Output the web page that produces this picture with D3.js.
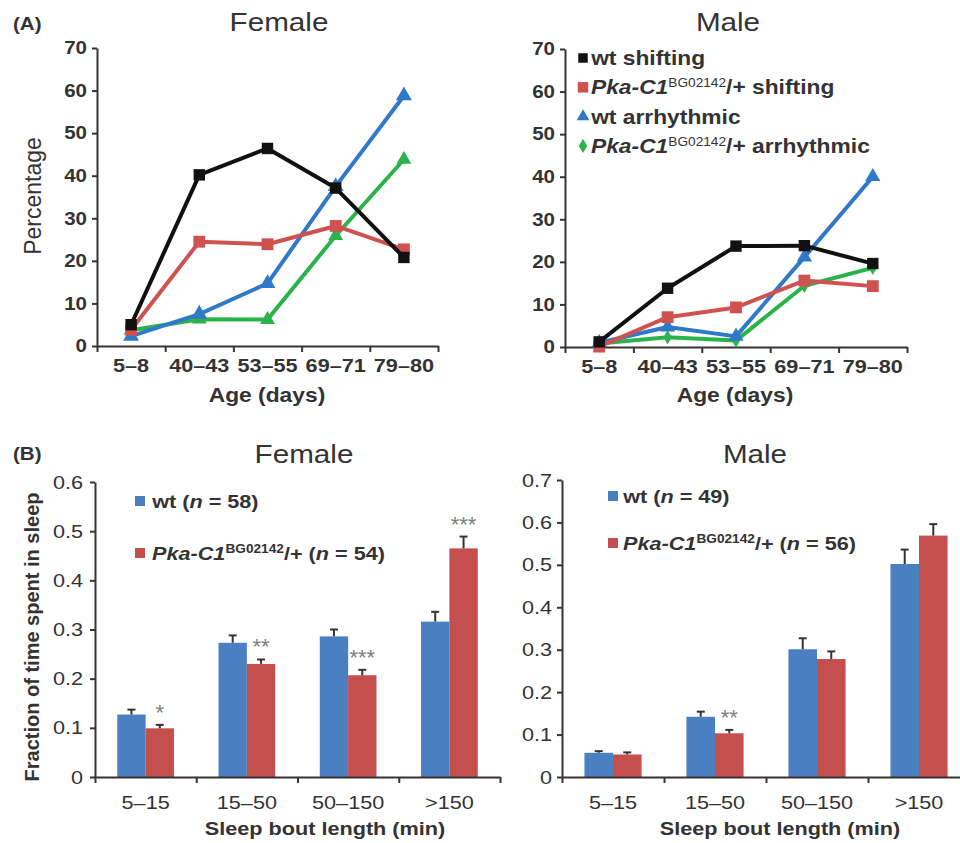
<!DOCTYPE html>
<html><head><meta charset="utf-8">
<script src="https://cdn.jsdelivr.net/npm/d3@7"></script>
<style>
body{margin:0;background:#fff}
text{font-family:"Liberation Sans",Arial,Helvetica,sans-serif}
.sc{transform-box:fill-box;transform-origin:50% 50%;transform:scaleX(1.14)}
.sl{transform-box:fill-box;transform-origin:0% 50%;transform:scaleX(1.14)}
.sr{transform-box:fill-box;transform-origin:100% 50%;transform:scaleX(1.14)}
</style>
</head><body>
<svg id="c" width="960" height="843"></svg>
<script>
// ---------- DATA ----------
const ageGroups = ["5–8", "40–43", "53–55", "69–71", "79–80"];
const pctTicks = [0, 10, 20, 30, 40, 50, 60, 70];
const femaleWtShift  = [5.0, 40.2, 46.4, 37.1, 20.8];
const femalePkaShift = [3.8, 24.5, 23.9, 28.2, 22.7];
const femaleWtArr    = [2.3, 7.5, 14.7, 37.5, 58.8];
const femalePkaArr   = [3.7, 6.3, 6.2, 25.9, 43.8];
const maleWtShift    = [1.2, 13.8, 23.7, 23.8, 19.6];
const malePkaShift   = [0.1, 7.0, 9.3, 15.6, 14.3];
const maleWtArr      = [1.0, 4.7, 2.5, 21.1, 40.0];
const malePkaArr     = [0.8, 2.3, 1.5, 14.4, 18.6];

const boutBins = ["5–15", "15–50", "50–150", ">150"];
const femaleTicks = [0, 0.1, 0.2, 0.3, 0.4, 0.5, 0.6];
const maleTicks = [0, 0.1, 0.2, 0.3, 0.4, 0.5, 0.6, 0.7];
const femaleWtSleep  = [0.127, 0.273, 0.286, 0.316];
const femaleWtErr    = [0.010, 0.015, 0.014, 0.020];
const femalePkaSleep = [0.099, 0.230, 0.207, 0.465];
const femalePkaErr   = [0.007, 0.009, 0.011, 0.024];
const femaleStars    = ["*", "**", "***", "***"];
const maleWtSleep    = [0.057, 0.142, 0.301, 0.502];
const maleWtErr      = [0.004, 0.012, 0.026, 0.034];
const malePkaSleep   = [0.053, 0.103, 0.278, 0.569];
const malePkaErr     = [0.005, 0.008, 0.018, 0.027];
const maleStars      = ["", "**", "", ""];

// ---------- STYLE ----------
const TXT = "#333";
const AX = "#3a3232";
const C = {black: "#111111", red: "#cf5150", blue: "#2f79c8", green: "#2bb34b",
           barBlue: "#4a7fc2", barRed: "#c44f4c"};

const svg = d3.select("#c");

function styleAxis(g, size, weight, cls) {
  g.select(".domain").attr("stroke", AX).attr("stroke-width", 2);
  g.selectAll(".tick line").attr("stroke", AX).attr("stroke-width", 2);
  g.selectAll(".tick text").attr("fill", TXT).attr("font-size", size)
    .attr("font-weight", weight).attr("font-family", '"Liberation Sans",Arial,sans-serif')
    .attr("class", cls);
}

// ---------- LINE PANELS (A) ----------
function linePanel(cfg) {
  const xb = d3.scaleBand().domain(ageGroups).range([cfg.x0, cfg.x1]);
  const xl = d3.scaleLinear().domain([0, ageGroups.length]).range([cfg.x0, cfg.x1]);
  const y = d3.scaleLinear().domain([0, 70]).range([cfg.y0, cfg.y1]);

  const ya = svg.append("g").attr("transform", `translate(${cfg.x0},0)`)
    .call(d3.axisLeft(y).tickValues(pctTicks).tickSize(5).tickSizeOuter(0).tickPadding(5));
  styleAxis(ya, 18, "bold", "sr");

  const xa = svg.append("g").attr("transform", `translate(0,${cfg.y0})`)
    .call(d3.axisBottom(xl).tickValues(d3.range(ageGroups.length + 1)).tickSize(6).tickSizeOuter(0).tickFormat(""));
  styleAxis(xa, 18, "bold", "sc");

  const xt = svg.append("g").attr("transform", `translate(0,${cfg.y0})`)
    .call(d3.axisBottom(xb).tickSize(0).tickPadding(13));
  xt.select(".domain").remove();
  styleAxis(xt, 19, "bold", "sc");

  const line = d3.line().x((d, i) => xb(ageGroups[i]) + xb.bandwidth() / 2).y(d => y(d));
  cfg.series.forEach(s => {
    svg.append("path").datum(s.values).attr("d", line)
      .attr("fill", "none").attr("stroke", s.color).attr("stroke-width", 4)
      .attr("stroke-linejoin", "round");
    svg.append("g").selectAll("path").data(s.values).join("path")
      .attr("transform", (d, i) => `translate(${xb(ageGroups[i]) + xb.bandwidth() / 2},${y(d)})`)
      .attr("d", d3.symbol().type(s.symbol).size(s.size))
      .attr("fill", s.color);
  });

  svg.append("text").attr("class", "sc").attr("x", cfg.titleX).attr("y", 31).attr("text-anchor", "middle")
    .attr("font-size", 26).attr("fill", TXT).text(cfg.title);
  svg.append("text").attr("class", "sc").attr("x", cfg.xlabX).attr("y", 402).attr("text-anchor", "middle")
    .attr("font-size", 20).attr("font-weight", "bold").attr("fill", TXT).text("Age (days)");
}

linePanel({
  x0: 97, x1: 438, y0: 346, y1: 48, title: "Female", titleX: 279, xlabX: 267,
  series: [
    {values: femalePkaArr, color: C.green, symbol: d3.symbolTriangle, size: 95},
    {values: femaleWtArr, color: C.blue, symbol: d3.symbolTriangle, size: 110},
    {values: femalePkaShift, color: C.red, symbol: d3.symbolSquare, size: 140},
    {values: femaleWtShift, color: C.black, symbol: d3.symbolSquare, size: 130}
  ]
});
linePanel({
  x0: 565, x1: 907, y0: 347, y1: 49, title: "Male", titleX: 728, xlabX: 735,
  series: [
    {values: malePkaArr, color: C.green, symbol: d3.symbolDiamond, size: 60},
    {values: maleWtArr, color: C.blue, symbol: d3.symbolTriangle, size: 100},
    {values: malePkaShift, color: C.red, symbol: d3.symbolSquare, size: 140},
    {values: maleWtShift, color: C.black, symbol: d3.symbolSquare, size: 130}
  ]
});

svg.append("text").attr("class", "sl").attr("x", 13).attr("y", 30).attr("font-size", 18).attr("font-weight", "bold")
  .attr("fill", TXT).text("(A)");
svg.append("text").attr("transform", "translate(41,196) rotate(-90)").attr("text-anchor", "middle")
  .attr("font-size", 23).attr("fill", TXT).text("Percentage");

// legend A
const legA = [
  {color: C.black, symbol: d3.symbolSquare, size: 90, pka: false, label: "shifting"},
  {color: C.red, symbol: d3.symbolSquare, size: 110, pka: true, label: "shifting"},
  {color: C.blue, symbol: d3.symbolTriangle, size: 70, pka: false, label: "arrhythmic"},
  {color: C.green, symbol: d3.symbolDiamond, size: 60, pka: true, label: "arrhythmic"}
];
legA.forEach((d, i) => {
  const cy = 58 + i * 29.3;
  svg.append("path").attr("transform", `translate(583,${cy})`)
    .attr("d", d3.symbol().type(d.symbol).size(d.size)).attr("fill", d.color);
  const t = svg.append("text").attr("class", "sl").attr("x", 591).attr("y", cy + 7)
    .attr("font-size", 20).attr("font-weight", "bold").attr("fill", TXT);
  if (d.pka) {
    t.append("tspan").attr("font-style", "italic").text("Pka-C1");
    t.append("tspan").attr("font-size", 12).attr("font-weight", "normal").attr("dy", -7).text("BG02142");
    t.append("tspan").attr("dy", 7).text("/+ " + d.label);
  } else {
    t.text("wt " + d.label);
  }
});

// ---------- BAR PANELS (B) ----------
function barPanel(cfg) {
  const xl = d3.scaleLinear().domain([0, boutBins.length]).range([cfg.x0, cfg.x1]);
  const xb = d3.scaleBand().domain(boutBins).range([cfg.x0, cfg.x1]).paddingInner(0.44).paddingOuter(0.22);
  const xc = d3.scaleBand().domain(boutBins).range([cfg.x0, cfg.x1]);
  const xs = d3.scaleBand().domain(["wt", "pka"]).range([0, xb.bandwidth()]);
  const y = d3.scaleLinear().domain([0, cfg.max]).range([cfg.y0, cfg.y1]);

  const ya = svg.append("g").attr("transform", `translate(${cfg.x0},0)`)
    .call(d3.axisLeft(y).tickValues(cfg.ticks).tickSize(5).tickSizeOuter(0).tickPadding(cfg.tickPad)
      .tickFormat(d => d === 0 ? "0" : d3.format(".1f")(d)));
  styleAxis(ya, 19, "normal", "sr");

  const series = [
    {key: "wt", vals: cfg.wt, err: cfg.wtErr, color: C.barBlue},
    {key: "pka", vals: cfg.pka, err: cfg.pkaErr, color: C.barRed}
  ];
  series.forEach(s => {
    const g = svg.append("g");
    g.selectAll("rect").data(s.vals).join("rect")
      .attr("x", (d, i) => xb(boutBins[i]) + xs(s.key))
      .attr("width", xs.bandwidth())
      .attr("y", d => y(d)).attr("height", d => cfg.y0 - y(d))
      .attr("fill", s.color);
    const cx = i => xb(boutBins[i]) + xs(s.key) + xs.bandwidth() / 2;
    g.selectAll("line.e").data(s.vals).join("line").attr("class", "e")
      .attr("x1", (d, i) => cx(i)).attr("x2", (d, i) => cx(i))
      .attr("y1", d => y(d)).attr("y2", (d, i) => y(d + s.err[i]))
      .attr("stroke", AX).attr("stroke-width", 2);
    g.selectAll("line.c").data(s.vals).join("line").attr("class", "c")
      .attr("x1", (d, i) => cx(i) - 4).attr("x2", (d, i) => cx(i) + 4)
      .attr("y1", (d, i) => y(d + s.err[i])).attr("y2", (d, i) => y(d + s.err[i]))
      .attr("stroke", AX).attr("stroke-width", 2);
  });
  svg.append("g").selectAll("text").data(cfg.stars).join("text")
    .attr("x", (d, i) => xb(boutBins[i]) + xs("pka") + xs.bandwidth() / 2)
    .attr("y", (d, i) => y(cfg.pka[i] + cfg.pkaErr[i]) - 5)
    .attr("text-anchor", "middle").attr("font-size", 22).attr("fill", "#808080").text(d => d);

  const xa = svg.append("g").attr("transform", `translate(0,${cfg.y0})`)
    .call(d3.axisBottom(xl).tickValues(d3.range(boutBins.length + 1)).tickSize(6).tickSizeOuter(0).tickFormat(""));
  styleAxis(xa, 18, "normal", "sc");
  const xt = svg.append("g").attr("transform", `translate(0,${cfg.y0})`)
    .call(d3.axisBottom(xc).tickSize(0).tickPadding(19));
  xt.select(".domain").remove();
  styleAxis(xt, 19, "normal", "sc");

  svg.append("text").attr("class", "sc").attr("x", cfg.titleX).attr("y", 463).attr("text-anchor", "middle")
    .attr("font-size", 26).attr("fill", TXT).text(cfg.title);
  svg.append("text").attr("class", "sc").attr("x", cfg.xlabX).attr("y", 835).attr("text-anchor", "middle")
    .attr("font-size", 19).attr("font-weight", "bold").attr("fill", TXT).text("Sleep bout length (min)");

  // legend
  const L = cfg.leg;
  svg.append("rect").attr("x", L.x - 5).attr("y", L.y1 - 5).attr("width", 10).attr("height", 10).attr("fill", C.barBlue);
  svg.append("rect").attr("x", L.x - 5).attr("y", L.y2 - 5).attr("width", 10).attr("height", 10).attr("fill", C.barRed);
  const t1 = svg.append("text").attr("class", "sl").attr("x", L.tx).attr("y", L.y1 + 7).attr("font-size", 19)
    .attr("font-weight", "bold").attr("fill", TXT);
  t1.append("tspan").text("wt (");
  t1.append("tspan").attr("font-style", "italic").text("n");
  t1.append("tspan").text(` = ${cfg.nWt})`);
  const t2 = svg.append("text").attr("class", "sl").attr("x", L.tx).attr("y", L.y2 + 7).attr("font-size", 19)
    .attr("font-weight", "bold").attr("fill", TXT);
  t2.append("tspan").attr("font-style", "italic").text("Pka-C1");
  t2.append("tspan").attr("font-size", 12).attr("dy", -7).text("BG02142");
  t2.append("tspan").attr("dy", 7).text("/+ (");
  t2.append("tspan").attr("font-style", "italic").text("n");
  t2.append("tspan").text(` = ${cfg.nPka})`);
}

barPanel({
  x0: 95, x1: 500, y0: 777, y1: 482, max: 0.6, ticks: femaleTicks, tickPad: 7,
  wt: femaleWtSleep, wtErr: femaleWtErr, pka: femalePkaSleep, pkaErr: femalePkaErr, stars: femaleStars,
  title: "Female", titleX: 304, xlabX: 325, nWt: 58, nPka: 54,
  leg: {x: 140, y1: 501, y2: 553, tx: 152}
});
barPanel({
  x0: 562, x1: 970, y0: 777, y1: 480, max: 0.7, ticks: maleTicks, tickPad: 5,
  wt: maleWtSleep, wtErr: maleWtErr, pka: malePkaSleep, pkaErr: malePkaErr, stars: maleStars,
  title: "Male", titleX: 755, xlabX: 780, nWt: 49, nPka: 56,
  leg: {x: 613, y1: 496, y2: 543, tx: 623}
});

svg.append("text").attr("class", "sl").attr("x", 13).attr("y", 460).attr("font-size", 18).attr("font-weight", "bold")
  .attr("fill", TXT).text("(B)");
svg.append("text").attr("transform", "translate(39,637) rotate(-90)").attr("text-anchor", "middle")
  .attr("font-size", 20).attr("font-weight", "bold").attr("fill", TXT).text("Fraction of time spent in sleep");
</script>
</body></html>
